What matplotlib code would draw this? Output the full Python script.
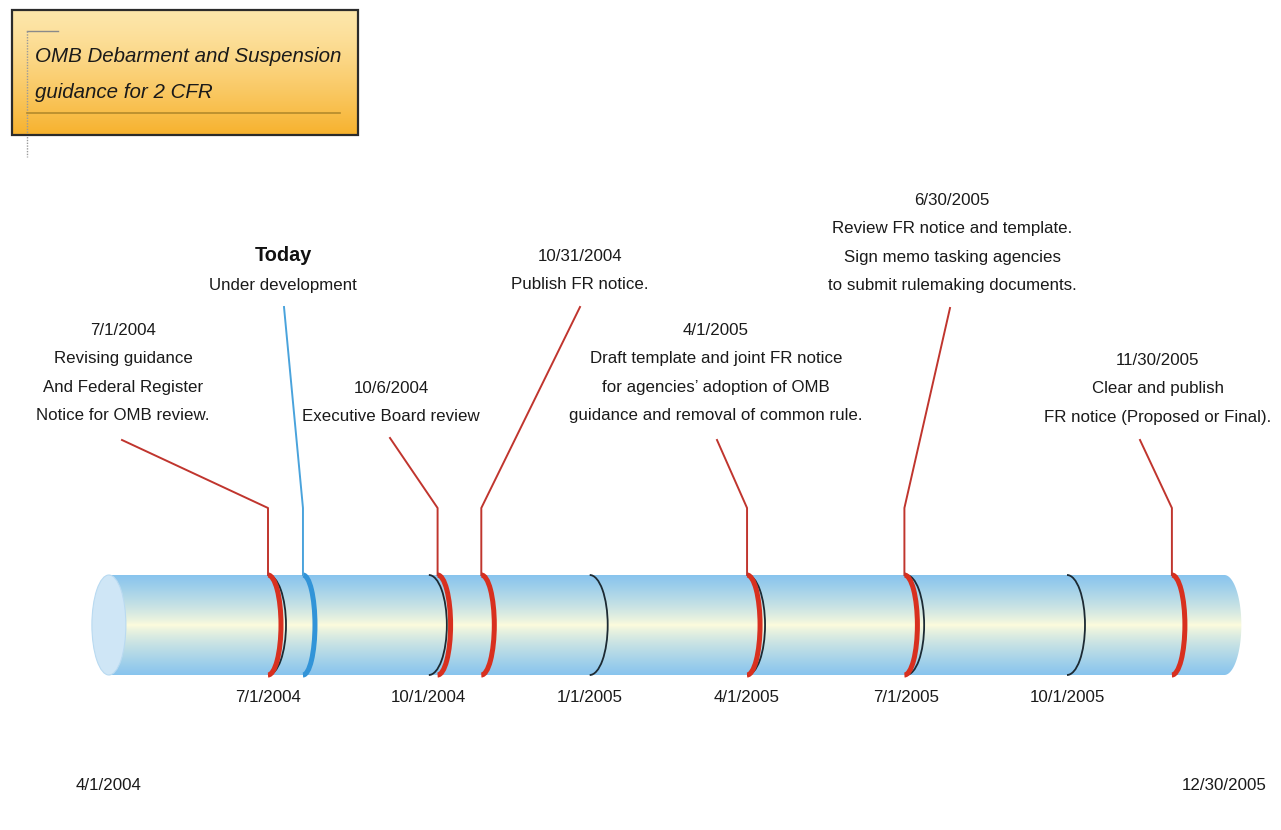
import numpy as np
import pandas as pd
import matplotlib
matplotlib.use("Agg")
import matplotlib.pyplot as plt
import matplotlib.dates as mdates
from matplotlib.patches import Arc, Ellipse, PathPatch, Rectangle
from matplotlib.path import Path
from matplotlib import font_manager

# --- data -------------------------------------------------------------
range_start = "2004-04-01"
range_end = "2005-12-30"
range_labels = ["4/1/2004", "12/30/2005"]

quarter_dates = ["2004-07-01", "2004-10-01", "2005-01-01",
                 "2005-04-01", "2005-07-01", "2005-10-01"]
quarter_labels = ["7/1/2004", "10/1/2004", "1/1/2005",
                  "4/1/2005", "7/1/2005", "10/1/2005"]

event_dates = ["2004-07-01", "2004-10-06", "2004-10-31",
               "2005-04-01", "2005-06-30", "2005-11-30"]
event_texts = [
    ["7/1/2004", "Revising guidance", "And Federal Register", "Notice for OMB review."],
    ["10/6/2004", "Executive Board review"],
    ["10/31/2004", "Publish FR notice."],
    ["4/1/2005", "Draft template and joint FR notice",
     "for agencies\u2019 adoption of OMB", "guidance and removal of common rule."],
    ["6/30/2005", "Review FR notice and template.",
     "Sign memo tasking agencies", "to submit rulemaking documents."],
    ["11/30/2005", "Clear and publish", "FR notice (Proposed or Final)."],
]

today_date = "2004-07-21"
today_texts = ["Today", "Under development"]

title_lines = ["OMB Debarment and Suspension", "guidance for 2 CFR"]

# --- layout (pixels) ---------------------------------------------------
W, H = 1281, 830
cyl_top, cyl_bot = 575, 675
cyl_mid = (cyl_top + cyl_bot) / 2
# label centre x, first line y, leader end x, leader end y
event_layout = [(123, 330, 122, 440), (391, 388, 390, 438), (580, 256, 580, 307),
                (716, 330, 717, 440), (952, 200, 950, 308), (1158, 360, 1140, 440)]
today_layout = (283, 255, 284, 307)
elbow_y = 508
line_gap = 28.5


def pick_font():
    for name in ["Liberation Sans Narrow", "Arial Narrow"]:
        try:
            font_manager.findfont(name, fallback_to_default=False)
            return name, 1.0
        except ValueError:
            pass
    return "Liberation Sans", 0.82


font, scale = pick_font()
plt.rcParams['font.family'] = [font, 'DejaVu Sans']

d = lambda s: mdates.date2num(pd.Timestamp(s))
px_per_day = (1067 - 268) / (d("2005-10-01") - d("2004-07-01"))
x_min = d("2004-07-01") - 268 / px_per_day
x_max = x_min + W / px_per_day


def px2num(px):
    return x_min + px / px_per_day


fig = plt.figure(figsize=(W / 100, H / 100), dpi=100)
ax = fig.add_axes([0, 0, 1, 1])
ax.set_axis_off()

left, right = d(range_start), d(range_end)
cap = 17 / px_per_day

# cylinder body with gradient
theta = np.linspace(-np.pi / 2, np.pi / 2, 60)
verts = [(left, cyl_top)] + [(right + cap * np.cos(t), cyl_mid + 50 * np.sin(t)) for t in theta] \
        + [(left, cyl_bot), (left, cyl_top)]
body = PathPatch(Path(verts), facecolor='none', edgecolor='none')
ax.add_patch(body)
tt = np.abs(np.linspace(-1, 1, 200))[:, None]
blue = np.array([0x88, 0xc4, 0xee]) / 255
pale = np.array([0xfe, 0xfc, 0xdc]) / 255
grad = pale + (blue - pale) * tt[..., None] ** 0.8
grad = np.repeat(grad, 2, axis=1)
im = ax.imshow(grad, extent=[left - 20, right + 20, cyl_bot, cyl_top],
               aspect='auto', origin='upper', zorder=1)
im.set_clip_path(body)
ax.add_patch(Ellipse((left, cyl_mid), 2 * cap, cyl_bot - cyl_top,
                     facecolor='#cfe6f6', edgecolor='#b9daf1', lw=0.8, zorder=2))

# quarter rings
for q in quarter_dates:
    ax.add_patch(Arc((d(q), cyl_mid), 2 * 18 / px_per_day, cyl_bot - cyl_top,
                     theta1=-90, theta2=90, color='#1c2a33', lw=1.3, zorder=3))

# event rings + leaders
red = '#d8301f'
for date, lines, (lx, ly, ex, ey) in zip(event_dates, event_texts, event_layout):
    x = d(date)
    ax.add_patch(Arc((x, cyl_mid), 2 * 13 / px_per_day, cyl_bot - cyl_top,
                     theta1=-90, theta2=90, color=red, lw=3.6, zorder=4))
    ax.plot([x, x, px2num(ex)], [cyl_top, elbow_y, ey], color='#c0352e', lw=1.4, zorder=4)
    for i, s in enumerate(lines):
        ax.text(px2num(lx), ly + i * line_gap, s, ha='center', va='center',
                fontsize=14.8 * scale, color='#1a1a1a')

# today ring
x = d(today_date)
lx, ly, ex, ey = today_layout
ax.add_patch(Arc((x, cyl_mid), 2 * 12 / px_per_day, cyl_bot - cyl_top,
                 theta1=-90, theta2=90, color='#3294d8', lw=3.6, zorder=4))
ax.plot([x, x, px2num(ex)], [cyl_top, elbow_y, ey], color='#4aa3dc', lw=1.4, zorder=4)
ax.text(px2num(lx), ly, today_texts[0], ha='center', va='center',
        fontsize=17.5 * scale, fontweight='bold', color='#111111')
ax.text(px2num(lx), ly + 30, today_texts[1], ha='center', va='center',
        fontsize=14.8 * scale, color='#1a1a1a')

# axis labels
for q, s in zip(quarter_dates, quarter_labels):
    ax.text(d(q), 697, s, ha='center', va='center', fontsize=14.8 * scale, color='#1a1a1a')
for q, s in zip([range_start, range_end], range_labels):
    ax.text(d(q), 785, s, ha='center', va='center', fontsize=14.8 * scale, color='#1a1a1a')

ax.set_xlim(x_min, x_max)
ax.set_ylim(H, 0)

# title box in pixel overlay
ov = fig.add_axes([0, 0, 1, 1])
ov.set_axis_off()
ov.patch.set_visible(False)
box = Rectangle((12, 10), 346, 125, facecolor='none', edgecolor='#2b2b2b', lw=1.6, zorder=3)
ov.add_patch(box)
g = np.linspace(0, 1, 100)[:, None, None]
top_c = np.array([0xfd, 0xe6, 0xaa]) / 255
bot_c = np.array([0xf7, 0xb2, 0x2e]) / 255
tg = np.repeat(top_c + (bot_c - top_c) * g ** 1.3, 2, axis=1)
ov.imshow(tg, extent=[12, 358, 135, 10], aspect='auto', origin='upper', zorder=1)
ov.plot([27, 58], [31, 31], color='#8a8a8a', lw=1.0, zorder=2)
ov.plot([27, 27], [31, 157], color='#9a9a9a', lw=1.0, ls=(0, (1, 1)), zorder=2)
ov.plot([27, 340], [113, 113], color='#b38a2c', lw=1.2, zorder=2)
for i, s in enumerate(title_lines):
    ov.text(35, 57 + i * 36, s, ha='left', va='center', fontsize=18 * scale,
            fontstyle='italic', color='#1a1a1a', zorder=4)
ov.set_xlim(0, W)
ov.set_ylim(H, 0)

fig.savefig("out.png", dpi=100)
